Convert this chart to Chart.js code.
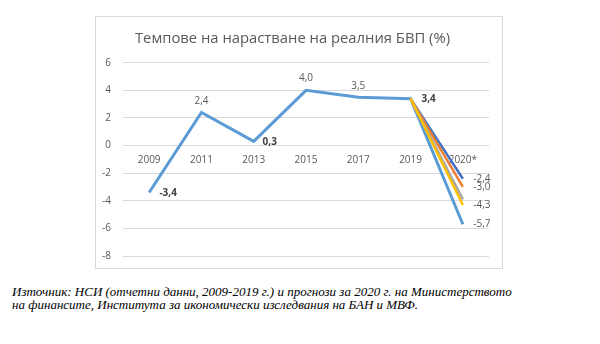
<!DOCTYPE html>
<html>
<head>
<meta charset="utf-8">
<script src="https://cdn.jsdelivr.net/npm/chart.js@4.4.1/dist/chart.umd.min.js"></script>
<style>
  body { margin: 0; background: #fff; width: 600px; height: 344px; position: relative; overflow: hidden; }
  #frame { position: absolute; left: 95px; top: 16px; width: 406px; height: 251px; border: 1px solid #d9d9d9; }
  #wrap { position: absolute; left: 0; top: 0; width: 406px; height: 257px; }
  #source { position: absolute; left: 12px; top: 285px; width: 590px;
    font-family: "Liberation Serif", serif; font-style: italic; font-size: 13px; line-height: 13px; color: #000; }
</style>
</head>
<body>
<div id="frame"><div id="wrap"><canvas id="growthChart"></canvas></div></div>
<div id="source">Източник: НСИ (отчетни данни, 2009-2019 г.) и прогнози за 2020 г. на Министерството<br>на финансите, Института за икономически изследвания на БАН и МВФ.</div>
<script>
const years = ["2009", "2011", "2013", "2015", "2017", "2019", "2020*"];
const actual = [-3.4, 2.4, 0.3, 4.0, 3.5, 3.4, -5.7];
const forecastA = [null, null, null, null, null, 3.4, -2.4];
const forecastB = [null, null, null, null, null, 3.4, -3.0];
const forecastC = [null, null, null, null, null, 3.4, -3.9];
const forecastD = [null, null, null, null, null, 3.4, -4.3];
const yTicks = [-8, -6, -4, -2, 0, 2, 4, 6];

const fmt = v => v.toFixed(1).replace(".", ",");

// label placement for each point of the actual series: [dx, dy, bold]
const mainLabelPos = [[19, 1, true], [0, -11, false], [16, 1, true], [0, -12, false], [0, -11, false], [18, 1, true], [19, 0, false]];

const labelPlugin = {
    id: "pointLabels",
    afterDatasetsDraw(chart) {
        const ctx = chart.ctx;
        ctx.save();
        ctx.textAlign = "center";
        ctx.textBaseline = "middle";
        chart.data.datasets.forEach((ds, i) => {
            const meta = chart.getDatasetMeta(i);
            ds.data.forEach((v, j) => {
                if (v === null) return;
                let pos;
                if (i === 4) pos = mainLabelPos[j];
                else if (j === 6 && ds.showEnd) pos = [19, 0, false];
                else return;
                const el = meta.data[j];
                ctx.font = (pos[2] ? "bold " : "") + "10px 'Open Sans', sans-serif";
                ctx.fillStyle = pos[2] ? "#404040" : "#595959";
                ctx.fillText(fmt(v), el.x + pos[0], el.y + pos[1]);
            });
        });
        ctx.restore();
    }
};

const line = (data, color, width, showEnd) => ({
    data: data,
    borderColor: color,
    borderWidth: width,
    pointRadius: 0,
    tension: 0,
    fill: false,
    spanGaps: false,
    showEnd: showEnd
});

new Chart(document.getElementById("growthChart").getContext("2d"), {
    type: "line",
    data: {
        labels: years,
        datasets: [
            line(forecastD, "#ffc000", 2.5, true),
            line(forecastC, "#a5a5a5", 2.5, false),
            line(forecastB, "#ed7d31", 2.5, true),
            line(forecastA, "#4472c4", 2.5, true),
            line(actual, "#5b9bd5", 3, false)
        ]
    },
    options: {
        responsive: true,
        maintainAspectRatio: false,
        animation: false,
        layout: { padding: { left: 0, right: 13, top: 0, bottom: 0 } },
        plugins: {
            legend: { display: false },
            tooltip: { enabled: false },
            title: {
                display: true,
                text: "Темпове на нарастване на реалния БВП (%)",
                color: "#595959",
                font: { family: "'Open Sans', sans-serif", size: 14.8, weight: "normal" },
                padding: { top: 13, bottom: 15 }
            }
        },
        scales: {
            x: {
                position: { y: 0 },
                offset: true,
                afterFit: axis => { axis.height = 0; },
                grid: { display: false, drawTicks: false, offset: true },
                border: { display: false },
                ticks: { color: "#595959", font: { family: "'Open Sans', sans-serif", size: 10 }, padding: 9, maxRotation: 0 }
            },
            y: {
                min: -8,
                max: 6,
                afterBuildTicks: axis => { axis.ticks = yTicks.map(v => ({ value: v })); },
                afterFit: axis => { axis.width = 27; },
                grid: { color: "#d9d9d9", lineWidth: 1, drawTicks: false },
                border: { display: false },
                ticks: { color: "#595959", font: { family: "'Open Sans', sans-serif", size: 10 }, padding: 12 }
            }
        }
    },
    plugins: [labelPlugin]
});
</script>
</body>
</html>
